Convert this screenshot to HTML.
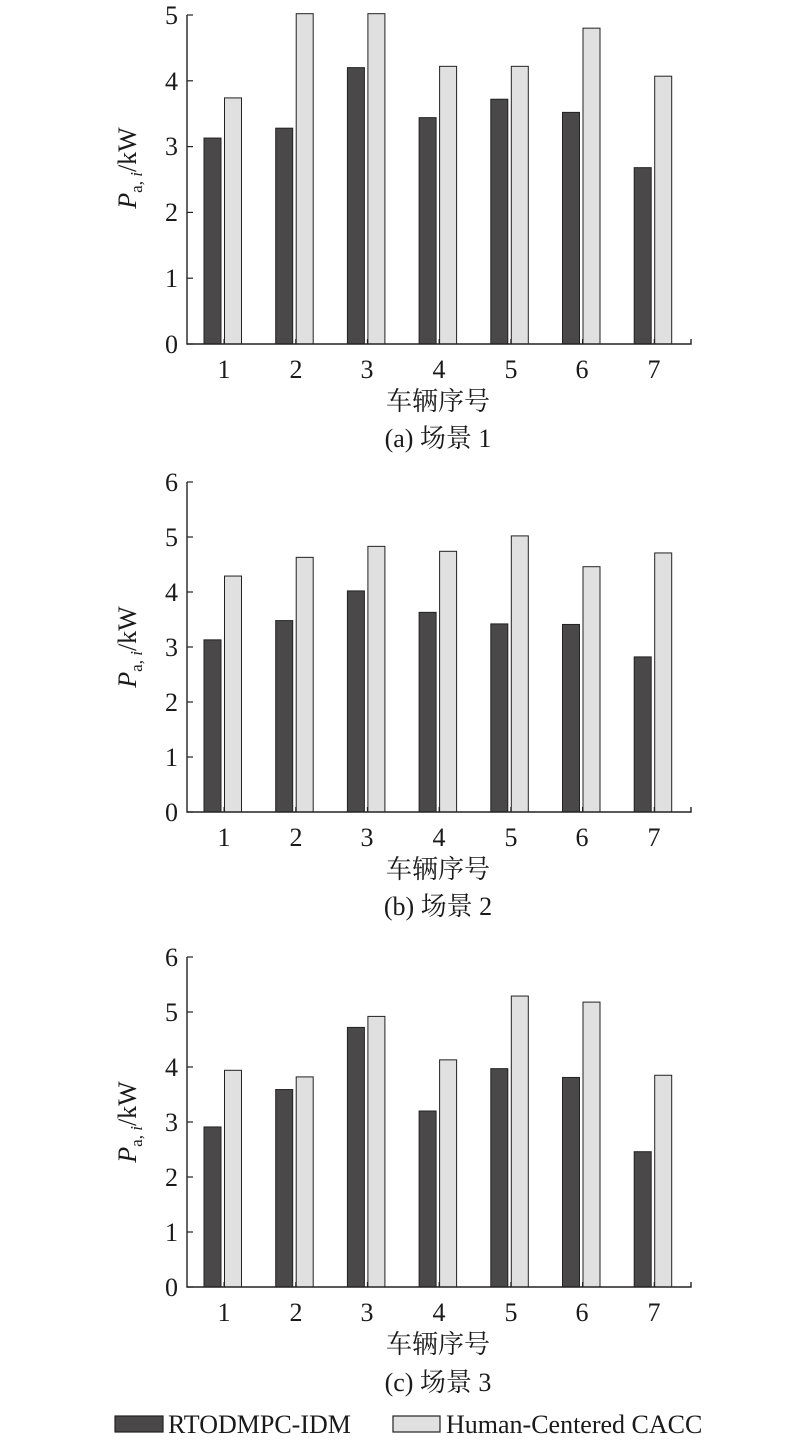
<!DOCTYPE html>
<html><head><meta charset="utf-8"><style>
html,body{margin:0;padding:0;background:#fff;}
svg{display:block;}
text{font-family:"Liberation Serif","Noto Serif CJK SC",serif;fill:#1a1a1a;}
</style></head><body>
<svg id="s" width="800" height="1442" xmlns="http://www.w3.org/2000/svg">
<g font-size="26">
<g text-anchor="end">
<text x="178" y="353">0</text><text x="178" y="287">1</text><text x="178" y="221">2</text><text x="178" y="155">3</text><text x="178" y="90">4</text><text x="178" y="24">5</text>
</g>
<g text-anchor="middle">
<text x="224" y="378">1</text><text x="296" y="378">2</text><text x="367" y="378">3</text><text x="439" y="378">4</text><text x="511" y="378">5</text><text x="582" y="378">6</text><text x="654" y="378">7</text>
<text x="438" y="410">车辆序号</text>
<text x="438" y="447">(a) 场景 1</text>
</g>
<text transform="translate(136,168) rotate(-90)" text-anchor="middle"><tspan font-style="italic">P</tspan><tspan font-size="17" dy="6">a, </tspan><tspan font-size="17" font-style="italic">i</tspan><tspan dy="-6">/kW</tspan></text>

<g text-anchor="end">
<text x="178" y="821">0</text><text x="178" y="766">1</text><text x="178" y="711">2</text><text x="178" y="656">3</text><text x="178" y="601">4</text><text x="178" y="546">5</text><text x="178" y="491">6</text>
</g>
<g text-anchor="middle">
<text x="224" y="846">1</text><text x="296" y="846">2</text><text x="367" y="846">3</text><text x="439" y="846">4</text><text x="511" y="846">5</text><text x="582" y="846">6</text><text x="654" y="846">7</text>
<text x="438" y="878">车辆序号</text>
<text x="438" y="915">(b) 场景 2</text>
</g>
<text transform="translate(136,647) rotate(-90)" text-anchor="middle"><tspan font-style="italic">P</tspan><tspan font-size="17" dy="6">a, </tspan><tspan font-size="17" font-style="italic">i</tspan><tspan dy="-6">/kW</tspan></text>

<g text-anchor="end">
<text x="178" y="1296">0</text><text x="178" y="1241">1</text><text x="178" y="1186">2</text><text x="178" y="1131">3</text><text x="178" y="1076">4</text><text x="178" y="1021">5</text><text x="178" y="966">6</text>
</g>
<g text-anchor="middle">
<text x="224" y="1321">1</text><text x="296" y="1321">2</text><text x="367" y="1321">3</text><text x="439" y="1321">4</text><text x="511" y="1321">5</text><text x="582" y="1321">6</text><text x="654" y="1321">7</text>
<text x="438" y="1353">车辆序号</text>
<text x="438" y="1391">(c) 场景 3</text>
</g>
<text transform="translate(136,1122) rotate(-90)" text-anchor="middle"><tspan font-style="italic">P</tspan><tspan font-size="17" dy="6">a, </tspan><tspan font-size="17" font-style="italic">i</tspan><tspan dy="-6">/kW</tspan></text>

<rect x="115" y="1416" width="48" height="16" fill="#4a4849" stroke="#222" stroke-width="1.2"/>
<text x="168" y="1433">RTODMPC-IDM</text>
<rect x="393" y="1416" width="47" height="16" fill="#e0e0e0" stroke="#222" stroke-width="1.2"/>
<text x="446" y="1433">Human-Centered CACC</text>
</g>
<g id="bars"></g>
</svg>
<script>
var charts=[
 {y0:344,unit:65.8,max:5,d:[3.13,3.28,4.2,3.44,3.72,3.52,2.68],l:[3.74,5.02,5.02,4.22,4.22,4.8,4.07]},
 {y0:812,unit:55,max:6,d:[3.13,3.48,4.02,3.63,3.42,3.41,2.82],l:[4.29,4.63,4.83,4.74,5.02,4.46,4.71]},
 {y0:1287,unit:55,max:6,d:[2.91,3.59,4.72,3.2,3.97,3.81,2.46],l:[3.94,3.82,4.92,4.13,5.29,5.18,3.85]}
];
var h='';
charts.forEach(function(c){
 for(var i=0;i<7;i++){
  var cx=224+i*71.7;
  var hd=c.d[i]*c.unit, hl=c.l[i]*c.unit;
  h+='<rect x="'+(cx-20)+'" y="'+(c.y0-hd)+'" width="17" height="'+hd+'" fill="#4a4849" stroke="#222" stroke-width="1"/>';
  h+='<rect x="'+(cx+0.5)+'" y="'+(c.y0-hl)+'" width="17" height="'+hl+'" fill="#e0e0e0" stroke="#222" stroke-width="1"/>';
  h+='<line x1="'+cx+'" y1="'+c.y0+'" x2="'+cx+'" y2="'+(c.y0-5)+'" stroke="#222"/>';
 }
 var top=c.y0-c.max*c.unit;
 h+='<path d="M187 '+top+' L187 '+c.y0+' L691 '+c.y0+' L691 '+(c.y0-5)+'" fill="none" stroke="#222" stroke-width="1.4"/>';
 for(var k=0;k<=c.max;k++){var y=c.y0-k*c.unit;h+='<line x1="187" y1="'+y+'" x2="193" y2="'+y+'" stroke="#222" stroke-width="1.2"/>';}
});
document.getElementById('bars').innerHTML=h;
</script>
</body></html>
